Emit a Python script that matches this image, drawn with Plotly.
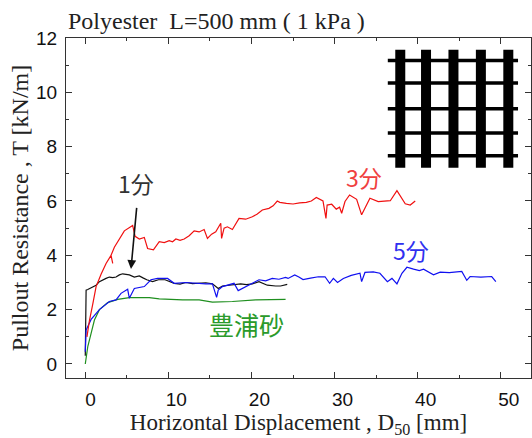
import plotly.graph_objects as go

# Curves: displacement [mm], resistance [kN/m]
black_x = [0.0,0.05,0.1,0.3,0.7,1.0,1.3,1.7,2.1,2.5,2.9,3.3,3.7,4.1,4.5,4.9,5.3,5.9,6.5,7.0,7.4,8.1,8.8,9.6,10.2,10.7,11.4,12.1,12.9,13.7,14.5,15.3,16.0,16.5,17.7,18.7,19.4,20.1,20.9,21.9,22.9,23.5,24.3]
black_y = [0.3,1.6,2.72,2.74,2.8,2.84,2.9,3.03,3.1,3.15,3.2,3.18,3.2,3.28,3.32,3.3,3.28,3.2,3.24,3.16,3.1,3.03,3.1,3.1,3.03,2.97,2.94,3.0,2.96,2.97,2.99,2.95,2.78,2.87,2.9,2.95,2.92,2.95,3.03,2.9,2.87,2.87,2.93]

red_x = [0.2,0.5,0.9,1.3,1.9,2.5,3.1,3.3,3.1,3.5,4.1,4.7,5.7,6.0,6.5,7.1,7.5,8.2,8.9,9.5,10.1,10.5,10.9,11.4,11.9,12.5,13.1,13.7,14.3,14.7,15.2,15.7,16.3,16.4,16.7,17.1,17.7,18.1,18.5,19.3,20.1,20.7,21.3,22.1,22.6,23.1,23.4,24.2,25.0,25.8,26.6,27.2,27.8,28.6,28.96,29.1,29.65,30.2,30.6,30.85,31.25,31.8,32.65,33.25,34.25,35.25,36.0,36.7,37.5,38.5,39.1,39.7]
red_y = [1.0,1.6,2.2,2.85,3.3,3.7,4.0,3.7,4.0,4.3,4.6,4.9,5.1,4.7,4.6,4.66,4.25,4.2,4.5,4.47,4.54,4.5,4.6,4.55,4.6,4.72,4.9,4.86,4.95,4.62,4.78,4.87,5.18,4.62,5.0,5.05,4.95,5.15,5.36,5.33,5.42,5.52,5.67,5.73,5.82,6.0,5.95,5.91,5.89,5.93,5.95,6.0,6.13,6.0,5.36,5.85,5.88,5.7,5.77,5.55,5.98,6.22,6.06,5.49,6.1,5.98,6.0,6.01,6.38,5.9,5.85,6.0]

blue_x = [0.0,0.1,0.7,1.7,2.9,3.7,4.3,5.1,5.3,5.9,7.1,7.9,8.7,9.9,10.7,12.1,14.5,15.3,15.8,16.0,16.5,17.9,18.4,19.7,20.9,21.7,22.5,23.3,24.1,24.4,25.2,25.7,26.2,27.1,28.05,28.85,29.4,29.85,30.35,31.05,32.0,33.05,33.25,33.65,34.65,35.45,36.35,36.9,37.5,38.1,38.7,39.5,40.2,40.7,41.9,42.7,43.8,45.3,45.9,46.3,47.6,48.9,49.4]
blue_y = [0.45,1.25,1.64,2.0,2.3,2.36,2.6,2.75,2.42,2.78,2.85,3.1,3.15,3.15,2.97,3.0,2.95,2.95,2.45,2.72,2.85,2.97,2.7,2.9,3.1,3.06,3.15,3.12,3.19,3.15,3.28,3.2,3.11,3.16,3.21,3.21,2.97,3.15,3.0,3.15,3.26,3.34,3.03,3.37,3.39,3.34,3.03,3.15,2.95,3.34,3.56,3.49,3.44,3.49,3.28,3.38,3.36,3.41,3.08,3.22,3.2,3.22,3.03]

green_x = [0.0,0.3,0.7,1.1,1.7,2.7,3.9,5.3,7.7,8.9,11.7,13.7,15.3,17.7,20.5,24.1]
green_y = [0.0,0.64,1.13,1.62,2.0,2.26,2.38,2.44,2.44,2.4,2.36,2.36,2.28,2.3,2.36,2.38]

# Geogrid sketch in the upper right corner, in axis units
grid_rib_x = [37.9,41.0,44.3,47.6,50.9]
grid_rib_y = [11.17,10.34,9.4,8.5,7.67]
grid_span_x = [36.4,52.07]
grid_span_y = [7.22,11.57]

x_ticks = [0,10,20,30,40,50]
x_labels = ["\u00a0\u00a00","\u00a0\u00a0\u00a010","\u00a0\u00a0\u00a020","\u00a0\u00a0\u00a030","\u00a0\u00a0\u00a040","\u00a0\u00a0\u00a050"]
y_ticks = [0,2,4,6,8,10,12]

INK = "#222222"
fig = go.Figure()
for xs, ys, colour in [(black_x,black_y,"#111111"),(green_x,green_y,"#1f8f1f"),(blue_x,blue_y,"#1010f0"),(red_x,red_y,"#f01010")]:
    fig.add_trace(go.Scatter(x=xs,y=ys,mode="lines",line=dict(color=colour,width=1.2),showlegend=False,hoverinfo="skip"))

shapes = []
for gx in grid_rib_x:
    shapes.append(dict(type="line",xref="x",yref="y",x0=gx,x1=gx,y0=grid_span_y[0],y1=grid_span_y[1],line=dict(color="black",width=10)))
for gy in grid_rib_y:
    shapes.append(dict(type="line",xref="x",yref="y",x0=grid_span_x[0],x1=grid_span_x[1],y0=gy,y1=gy,line=dict(color="black",width=3.5)))

def note(x,y,text,colour,size=23):
    return dict(x=x,y=y,xref="x",yref="y",text=text,showarrow=False,font=dict(family="Noto Sans CJK JP",size=size,color=colour))

annotations = [
    note(6.1,6.65,"1分","#333333"),
    note(33.5,6.9,"3分","#f04040"),
    note(39.2,4.18,"5分","#3030f0"),
    note(19.35,1.46,"豊浦砂","#2a9a2a",25),
    dict(x=5.5,y=3.5,ax=6.2,ay=5.8,xref="x",yref="y",axref="x",ayref="y",text="",showarrow=True,arrowhead=2,arrowsize=1.1,arrowwidth=1.6,arrowcolor="#111111"),
]

axis_common = dict(showgrid=False,zeroline=False,showline=True,linecolor="#333333",linewidth=1.3,mirror="allticks",
                   ticks="inside",ticklen=6,tickwidth=1.2,tickcolor="#333333",ticklabelstandoff=4,
                   tickfont=dict(family="Liberation Sans",size=19,color="#111111"))
fig.update_layout(
    width=532,height=438,autosize=False,
    margin=dict(l=66,r=1,t=38,b=60),
    paper_bgcolor="white",plot_bgcolor="white",
    title=dict(text="Polyester  L=500 mm ( 1 kPa )",x=68/532,xanchor="left",y=1-21/438,yanchor="middle",
               font=dict(family="Liberation Serif",size=24,color=INK)),
    shapes=shapes,annotations=annotations,
    xaxis=dict(axis_common,range=[-2.32,53.63],tickmode="array",tickvals=x_ticks,ticktext=x_labels,
               minor=dict(ticks="inside",ticklen=3,tickwidth=1,tickcolor="#333333",dtick=5,tick0=0),
               title=dict(text="Horizontal Displacement , D<sub>50</sub> [mm]\u00a0\u00a0",standoff=12,
                          font=dict(family="Liberation Serif",size=23,color=INK))),
    yaxis=dict(axis_common,range=[-0.516,12.0],tickmode="array",tickvals=y_ticks,
               minor=dict(ticks="inside",ticklen=3,tickwidth=1,tickcolor="#333333",dtick=1,tick0=0),
               title=dict(text="Pullout Resistance , T [kN/m]",standoff=0,
                          font=dict(family="Liberation Serif",size=24,color=INK))),
)
fig.write_html("out.html",config=dict(displayModeBar=False),post_script="document.body.style.margin='0';")
